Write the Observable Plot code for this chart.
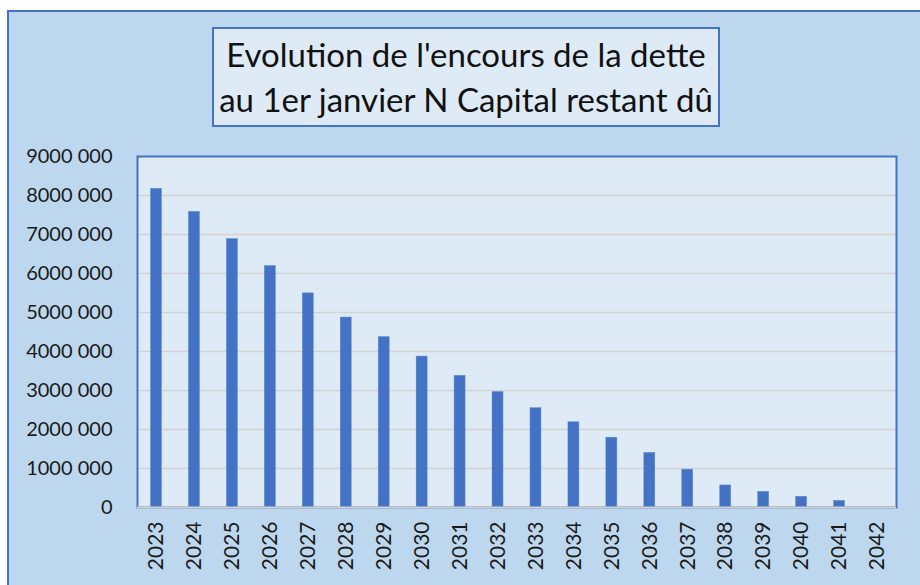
<!DOCTYPE html>
<html>
<head>
<meta charset="utf-8">
<script src="https://cdn.jsdelivr.net/npm/d3@7"></script>
<script src="https://cdn.jsdelivr.net/npm/@observablehq/plot@0.6"></script>
<style>
  html, body { margin: 0; padding: 0; background: #ffffff; }
  #wrap { position: relative; width: 920px; height: 585px; overflow: hidden; background: #ffffff; font-family: Lato, "Open Sans", sans-serif; }
  #bg { position: absolute; left: 7px; top: 10px; width: 940px; height: 600px; background: #BDD7EE; border-left: 2px solid #4472C4; border-top: 2px solid #4472C4; box-sizing: border-box; }
  #chart { position: absolute; left: 0; top: 0; }
  #title { position: absolute; left: 212px; top: 27px; width: 508px; height: 100px; box-sizing: border-box; background: #DEEBF7; border: 2px solid #4472C4; text-align: center; color: #111; font-size: 33px; line-height: 45px; padding-top: 3px; white-space: nowrap; }
</style>
</head>
<body>
<div id="wrap">
  <div id="bg"></div>
  <div id="chart"></div>
  <div id="title">Evolution de l'encours de la dette<br>au 1er janvier N Capital restant dû</div>
</div>
<script>
const years = ["2023","2024","2025","2026","2027","2028","2029","2030","2031","2032",
               "2033","2034","2035","2036","2037","2038","2039","2040","2041","2042"];
const capitalRestantDu = [8170000, 7580000, 6880000, 6190000, 5490000, 4870000, 4370000, 3870000, 3375000, 2960000,
                          2545000, 2185000, 1790000, 1400000, 970000, 565000, 400000, 275000, 170000, 0];
const yTicks = [0, 1000000, 2000000, 3000000, 4000000, 5000000, 6000000, 7000000, 8000000, 9000000];
const yTickLabels = ["0", "1000 000", "2000 000", "3000 000", "4000 000", "5000 000", "6000 000", "7000 000", "8000 000", "9000 000"];
const gridTicks = yTicks.slice(1, -1);

const data = years.map((y, i) => ({year: y, value: capitalRestantDu[i]}));

const chart = Plot.plot({
  width: 920,
  height: 585,
  marginLeft: 137,
  marginRight: 24,
  marginTop: 156,
  marginBottom: 78,
  style: {background: "transparent", color: "#1a1a1a", fontFamily: "Lato, 'Open Sans', sans-serif", fontSize: "20px"},
  x: {domain: years, padding: 0, round: false, label: null},
  y: {domain: [0, 9000000], label: null},
  marks: [
    Plot.frame({fill: "#DEEBF7", stroke: null}),
    Plot.ruleY(gridTicks, {stroke: "#D6D2D2", strokeWidth: 1.5}),
    Plot.barY(data, {x: "year", y: "value", fill: "#4472C4", stroke: "#5B85D0", strokeWidth: 0.5, insetLeft: 13.5, insetRight: 13.5}),
    Plot.frame({stroke: "#4472C4", strokeWidth: 2}),
    Plot.ruleY([0], {stroke: "#D0D0D0", strokeWidth: 2}),
    Plot.axisY({ticks: yTicks, tickFormat: d => yTickLabels[yTicks.indexOf(d)], tickSize: 0, tickPadding: 25, fontSize: 20}),
    Plot.axisX({tickSize: 0, tickRotate: -90, tickPadding: 14, fontSize: 21})
  ]
});
document.getElementById("chart").appendChild(chart);
</script>
</body>
</html>
